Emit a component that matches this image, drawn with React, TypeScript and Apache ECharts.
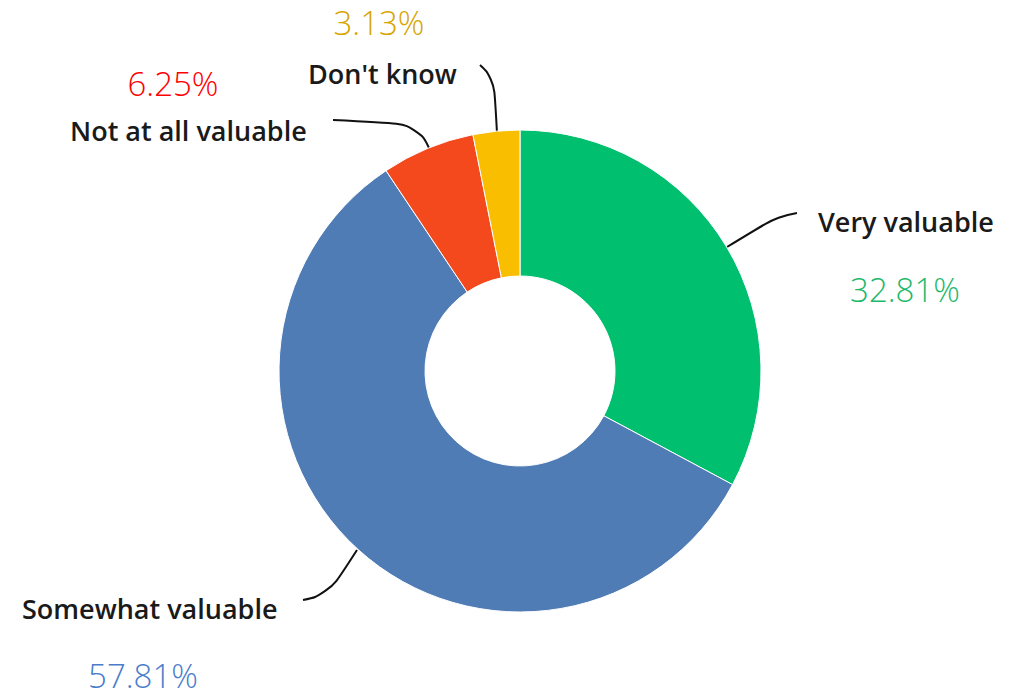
import React, { useEffect, useRef } from "react";
import * as echarts from "echarts";

const categories = ["Very valuable", "Somewhat valuable", "Not at all valuable", "Don't know"];
const percentages = [32.81, 57.81, 6.25, 3.13];

const sliceColors = ["#00BF6F", "#507CB6", "#F4481D", "#F9BE00"];
const pctColors = ["#1DB86C", "#4A7CCB", "#FF0000", "#D7A500"];

// label layout (positions only)
const nameLayout = [
  { x: 818, y: 221, line: [[727, 247], [778, 216], [797, 213]] },
  { x: 22, y: 608, line: [[357, 550], [328, 595], [303, 600]] },
  { x: 70, y: 130, line: [[430, 150], [418, 124], [333, 120]] },
  { x: 308, y: 73, line: [[497, 133], [494, 78], [480, 65]] },
];
const pctLayout = [
  { x: 905, y: 289 },
  { x: 143, y: 675 },
  { x: 173, y: 83 },
  { x: 379, y: 22 },
];

export default function App() {
  const ref = useRef<HTMLDivElement>(null);
  useEffect(() => {
    if (!ref.current) return;
    const chart = echarts.init(ref.current, undefined, { renderer: "svg" });
    const data = categories.map((c, i) => ({
      name: c,
      value: percentages[i],
      itemStyle: { color: sliceColors[i] },
    }));
    chart.setOption({
      animation: false,
      series: [
        {
          type: "pie",
          center: [520, 371],
          radius: [95, 241],
          startAngle: 90,
          clockwise: true,
          z: 2,
          itemStyle: { borderColor: "#ffffff", borderWidth: 1 },
          data,
          label: {
            show: true,
            formatter: "{b}",
            fontFamily: "Open Sans",
            fontWeight: 600,
            fontSize: 27,
            color: "#1a1a1a",
          },
          labelLine: {
            show: true,
            smooth: 0.5,
            lineStyle: { color: "#111111", width: 2 },
          },
          labelLayout: (p: any) => {
            const L = nameLayout[p.dataIndex];
            return {
              x: L.x,
              y: L.y,
              align: "left",
              verticalAlign: "middle",
              labelLinePoints: L.line,
            };
          },
          emphasis: { disabled: true },
        },
        {
          type: "pie",
          center: [520, 371],
          radius: [95, 241],
          startAngle: 90,
          clockwise: true,
          z: 1,
          silent: true,
          data: categories.map((c, i) => ({
            name: c,
            value: percentages[i],
            itemStyle: { color: "transparent" },
            label: { color: pctColors[i] },
          })),
          label: {
            show: true,
            formatter: (p: any) => `${Number(p.value).toFixed(2)}%`,
            fontFamily: "Open Sans",
            fontWeight: 300,
            fontSize: 33,
            lineHeight: 30,
          },
          labelLine: { show: false },
          labelLayout: (p: any) => {
            const L = pctLayout[p.dataIndex];
            return { x: L.x, y: L.y, align: "center", verticalAlign: "middle" };
          },
          emphasis: { disabled: true },
        },
      ],
    });
    return () => chart.dispose();
  }, []);
  return (
    <div
      ref={ref}
      style={{ position: "fixed", left: 0, top: 0, width: 1025, height: 700, background: "#ffffff" }}
    />
  );
}
